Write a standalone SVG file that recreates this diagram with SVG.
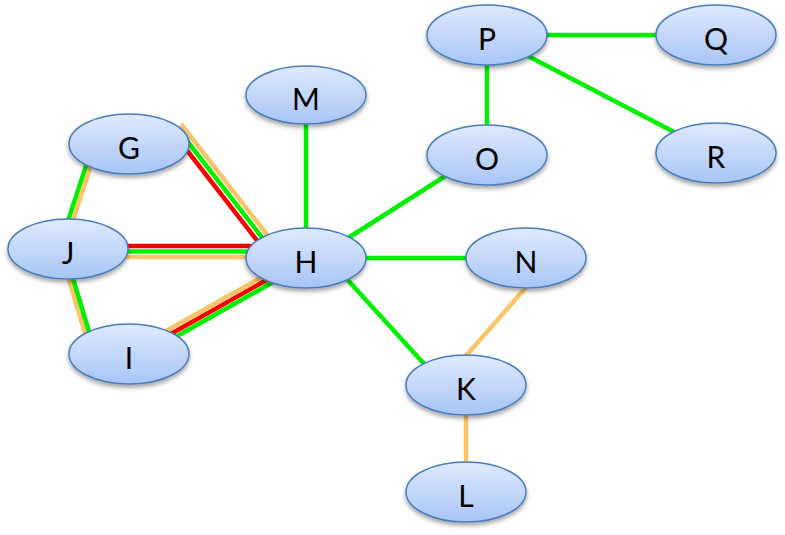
<svg xmlns="http://www.w3.org/2000/svg" width="785" height="535" viewBox="0 0 785 535">
<defs>
<linearGradient id="nodeFill" x1="0" y1="0" x2="0" y2="1">
<stop offset="0" stop-color="#dfeafd"/>
<stop offset="1" stop-color="#a8c5f6"/>
</linearGradient>
<filter id="shadow" x="-20%" y="-20%" width="140%" height="160%">
<feGaussianBlur in="SourceAlpha" stdDeviation="2"/>
<feOffset dx="0" dy="2.5" result="b"/>
<feComponentTransfer><feFuncA type="linear" slope="0.35"/></feComponentTransfer>
<feMerge><feMergeNode/><feMergeNode in="SourceGraphic"/></feMerge>
</filter>
</defs>
<style>
.node ellipse{fill:url(#nodeFill);stroke:#4a7ebb;stroke-width:1.5;filter:url(#shadow)}
.node text{font-family:Lato,"Open Sans","Liberation Sans",sans-serif;font-size:30px;fill:#000;text-anchor:middle}
.e{stroke-width:4.5;fill:none;stroke-linecap:butt}
.g{stroke:#00f000}
.r{stroke:#f80000}
.o{stroke:#fac468}
</style>
<rect width="785" height="535" fill="#ffffff"/>
<g id="connectors">
<line class="e g" x1="547" y1="35" x2="656" y2="35"/>
<line class="e g" x1="487" y1="60" x2="487" y2="130"/>
<line class="e g" x1="526" y1="55" x2="676" y2="133"/>
<line class="e g" x1="447" y1="175" x2="345" y2="240"/>
<line class="e g" x1="306" y1="120" x2="306" y2="235"/>
<line class="e g" x1="360" y1="258" x2="475" y2="258"/>
<line class="e g" x1="345" y1="277" x2="426" y2="366"/>
<line class="e o" x1="528" y1="285" x2="465" y2="357"/>
<line class="e o" x1="466" y1="405" x2="466" y2="470"/>
<line class="e g" x1="88" y1="160" x2="65" y2="230"/>
<line class="e o" x1="92.5" y1="160" x2="70" y2="230"/>
<line class="e o" x1="66" y1="270" x2="87" y2="340"/>
<line class="e g" x1="70.5" y1="270" x2="91.5" y2="340"/>
<line class="e o" x1="181" y1="124" x2="268" y2="236"/>
<line class="e g" x1="177" y1="128" x2="264" y2="240"/>
<line class="e r" x1="172" y1="131" x2="259" y2="243"/>
<line class="e r" x1="120" y1="246" x2="265" y2="246"/>
<line class="e g" x1="120" y1="251.5" x2="265" y2="251.5"/>
<line class="e o" x1="120" y1="257" x2="265" y2="257"/>
<line class="e o" x1="166" y1="331" x2="285" y2="264"/>
<line class="e r" x1="169" y1="335" x2="288" y2="268"/>
<line class="e g" x1="172" y1="339" x2="291" y2="272"/>
</g>
<g id="P" class="node"><ellipse cx="487" cy="35" rx="60" ry="30"/><text x="487" y="50">P</text></g>
<g id="Q" class="node"><ellipse cx="716" cy="35" rx="60" ry="30"/><text x="716" y="50">Q</text></g>
<g id="O" class="node"><ellipse cx="487" cy="155" rx="60" ry="30"/><text x="487" y="170">O</text></g>
<g id="R" class="node"><ellipse cx="716" cy="153" rx="60" ry="30"/><text x="716" y="168">R</text></g>
<g id="M" class="node"><ellipse cx="306" cy="95" rx="60" ry="29"/><text x="306" y="110">M</text></g>
<g id="G" class="node"><ellipse cx="129" cy="144" rx="60" ry="30"/><text x="129" y="159">G</text></g>
<g id="J" class="node"><ellipse cx="68" cy="249" rx="60" ry="30"/><text x="68" y="264">J</text></g>
<g id="I" class="node"><ellipse cx="129" cy="354" rx="60" ry="30"/><text x="129" y="369">I</text></g>
<g id="H" class="node"><ellipse cx="306" cy="258" rx="60" ry="30"/><text x="306" y="273">H</text></g>
<g id="N" class="node"><ellipse cx="526" cy="258" rx="60" ry="30"/><text x="526" y="273">N</text></g>
<g id="K" class="node"><ellipse cx="466" cy="385" rx="60" ry="30"/><text x="466" y="400">K</text></g>
<g id="L" class="node"><ellipse cx="466" cy="492" rx="60" ry="30"/><text x="466" y="507">L</text></g>
</svg>
